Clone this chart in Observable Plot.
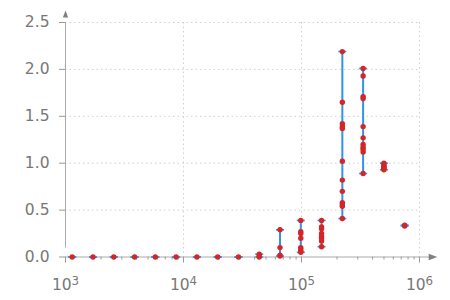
<!DOCTYPE html>
<html>
<head>
<meta charset="utf-8">
<script src="https://cdn.jsdelivr.net/npm/d3@7"></script>
<script src="https://cdn.jsdelivr.net/npm/@observablehq/plot@0.6"></script>
<style>
  html, body { margin: 0; padding: 0; background: #fff; }
</style>
</head>
<body>
<div id="chart"></div>
<script>
// x positions of each sample group
const xValues = [1140, 1710, 2565, 3850, 5770, 8660, 12990, 19480, 29220, 43830,
                 65740, 98610, 147900, 221900, 332800, 499200, 748800];
// samples per group
const groupSamples = [
  [0], [0], [0], [0], [0], [0], [0], [0], [0],
  [0.03, 0.01, 0.0],
  [0.29, 0.10, 0.02, 0.01],
  [0.39, 0.27, 0.25, 0.20, 0.10, 0.08, 0.06, 0.05],
  [0.39, 0.32, 0.30, 0.25, 0.22, 0.20, 0.17, 0.11],
  [2.19, 1.65, 1.42, 1.39, 1.37, 1.02, 0.82, 0.70, 0.58, 0.56, 0.54, 0.41],
  [2.01, 1.93, 1.71, 1.69, 1.39, 1.27, 1.20, 1.17, 1.15, 1.12, 0.89],
  [1.00, 0.98, 0.97, 0.96, 0.95, 0.94, 0.93],
  [0.34, 0.33]
];
// tick values
const yTicks = [0, 0.5, 1.0, 1.5, 2.0, 2.5];
const yGridTicks = [0.5, 1.0, 1.5, 2.0, 2.5];
const xMajorTicks = [1e3, 1e4, 1e5, 1e6];
const xGridTicks = [1e4, 1e5, 1e6];
const xMinorTicks = [2e3,3e3,4e3,5e3,6e3,7e3,8e3,9e3,
                     2e4,3e4,4e4,5e4,6e4,7e4,8e4,9e4,
                     2e5,3e5,4e5,5e5,6e5,7e5,8e5,9e5];
const xDomain = [1e3, 1e6];
const yDomain = [0, 2.5];

// derived tables
const points = xValues.flatMap((x, i) => groupSamples[i].map(y => ({x, y})));
const ranges = xValues.map((x, i) => {
  const [lo, hi] = d3.extent(groupSamples[i]);
  return {x, lo, hi};
});
const caps = ranges.flatMap(d => [{x: d.x, y: d.lo}, {x: d.x, y: d.hi}]);

// custom symbols
const capSymbol = {
  draw(ctx, size) {
    const r = Math.sqrt(size / Math.PI);
    ctx.moveTo(-r, 0); ctx.lineTo(r, 0);
  }
};
const arrowSymbol = {
  draw(ctx, size) {
    const r = Math.sqrt(size / Math.PI);
    ctx.moveTo(r, 0); ctx.lineTo(-r, -0.75 * r); ctx.lineTo(-r, 0.75 * r); ctx.closePath();
  }
};

const blue = "#2f93ea";
const red = "#d42626";
const axisGray = "#aaaaaa";
const tickGray = "#999999";
const textGray = "#777777";
const gridGray = "#cfcfcf";

const chart = Plot.plot({
  width: 450,
  height: 300,
  marginLeft: 65,
  marginRight: 31,
  marginTop: 22,
  marginBottom: 43.5,
  style: {fontFamily: "DejaVu Sans", fontSize: "15.5px", background: "#fff"},
  x: {type: "log", domain: xDomain, label: null},
  y: {domain: yDomain, label: null},
  marks: [
    Plot.gridY(yGridTicks, {stroke: gridGray, strokeOpacity: 1, strokeDasharray: "1.5,3"}),
    Plot.gridX(xGridTicks, {stroke: gridGray, strokeOpacity: 1, strokeDasharray: "1.5,3"}),
    Plot.axisY({ticks: yTicks, tickFormat: d3.format(".1f"), tickSize: 6, tickPadding: 10,
                stroke: tickGray, fill: textGray, label: null}),
    Plot.axisX({ticks: xMajorTicks, tickFormat: d => "10^" + Math.round(Math.log10(d)),
                tickSize: 6, tickPadding: 15.5, stroke: tickGray, fill: textGray, label: null}),
    Plot.axisX({ticks: xMinorTicks, tickFormat: () => "", tickSize: 3, tickPadding: 0,
                stroke: tickGray, label: null}),
    Plot.ruleY([0], {x1: xDomain[0], x2: xDomain[1], insetRight: -14, stroke: axisGray}),
    Plot.ruleX([xDomain[0]], {y1: yDomain[0], y2: yDomain[1], insetTop: -9, stroke: axisGray}),
    Plot.dot([{x: xDomain[1], y: 0}], {x: "x", y: "y", dx: 13.5, symbol: arrowSymbol, r: 4.3,
              fill: "#808080", stroke: "none"}),
    Plot.dot([{x: xDomain[0], y: yDomain[1]}], {x: "x", y: "y", dy: -8.5, symbol: arrowSymbol, r: 3.5,
              rotate: -90, fill: "#808080", stroke: "none"}),
    Plot.ruleX(ranges, {x: "x", y1: "lo", y2: "hi", stroke: blue, strokeWidth: 2}),
    Plot.dot(caps, {x: "x", y: "y", symbol: capSymbol, r: 4, stroke: blue, strokeWidth: 1.6, fill: "none"}),
    Plot.dot(points, {x: "x", y: "y", r: 2.7, fill: red, stroke: "none"})
  ]
});

// render x tick labels as 10 with a superscript exponent
chart.querySelectorAll('g[aria-label="x-axis tick label"] text').forEach(t => {
  const s = t.textContent;
  if (!s.includes("^")) return;
  const [base, exp] = s.split("^");
  t.textContent = base;
  const ts = document.createElementNS("http://www.w3.org/2000/svg", "tspan");
  ts.setAttribute("dy", "-5");
  ts.setAttribute("font-size", "0.76em");
  ts.textContent = exp;
  t.appendChild(ts);
});

document.getElementById("chart").appendChild(chart);
</script>
</body>
</html>
